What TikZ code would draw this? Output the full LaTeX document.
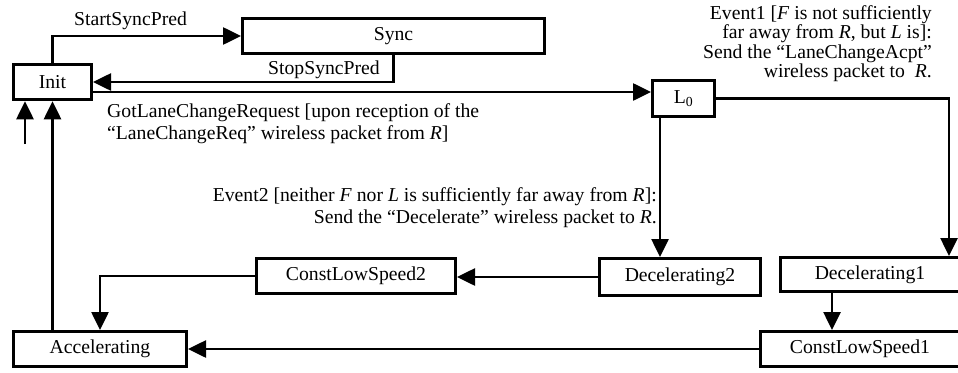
\documentclass[tikz,border=0pt]{standalone}
\usepackage{fontspec}
\setmainfont{Liberation Serif}
\usetikzlibrary{arrows.meta}
\begin{document}
\begin{tikzpicture}[x=1pt,y=-1pt,
  state/.style={draw, line width=3pt, inner sep=0pt,
    font=\fontsize{19.7}{20}\selectfont},
  arr/.style={line width=2.6pt, -{Triangle[length=18pt,width=17pt]}},
  lbl/.style={inner sep=0pt, font=\fontsize{19.7}{20}\selectfont}]
\useasboundingbox (0,0) rectangle (958,372);

% states
\node[state, minimum width=78pt,  minimum height=35.5pt] (init) at (52.5,82)   {Init};
\node[state, minimum width=302pt, minimum height=35pt]   (sync) at (393.5,36)  {Sync};
\node[state, minimum width=62pt,  minimum height=36pt]   (l0)   at (683.5,98.5){L\textsubscript{0}};
\node[state, minimum width=161pt, minimum height=37pt]   (dec2) at (680,277)   {Decelerating2};
\node[state, minimum width=180pt, minimum height=34pt]   (dec1) at (870,274.5) {Decelerating1};
\node[state, minimum width=199pt, minimum height=35pt]   (cls2) at (356,276)   {ConstLowSpeed2};
\node[state, minimum width=200pt, minimum height=35pt]   (cls1) at (860,349)   {ConstLowSpeed1};
\node[state, minimum width=173pt, minimum height=35pt]   (acc)  at (100,349)   {Accelerating};
\coordinate (entry) at (25,144);

% transitions
\draw[arr] (init.north) |- (sync.west);
\draw[arr] (sync.south) |- (init.east);
\draw[arr] ([yshift=-10pt]init.east) -- ([yshift=-10pt]init.east -| l0.west);
\draw[arr] (l0.east) -| ([xshift=79pt]dec1.north);
\draw[arr] ([xshift=-23.5pt]l0.south) -- ([xshift=-23.5pt]l0.south |- dec2.north);
\draw[arr] (dec2.west) -- (dec2.west -| cls2.east);
\draw[arr] (cls2.west) -| (acc.north);
\draw[arr] ([xshift=-38pt]dec1.south) -- ([xshift=-38pt]dec1.south |- cls1.north);
\draw[arr] (cls1.west) -- (acc.east);
\draw[arr] (acc.north -| init.south) -- (init.south);
\draw[arr] (entry) -- (entry |- init.south);

% transition labels
\node[lbl, anchor=base west] (lstart) at (74,25) {StartSyncPred};
\node[lbl, anchor=base west] (lstop) at (268,74) {StopSyncPred};
\node[lbl, anchor=north west, align=left, font=\fontsize{19.7}{22}\selectfont] (lgot) at (107,103)
  {GotLaneChangeRequest [upon reception of the\\“LaneChangeReq” wireless packet from \textit{R}]};
\node[lbl, anchor=north east, align=right, font=\fontsize{19.7}{19.5}\selectfont] (lev1) at (932,5)
  {Event1 [\textit{F} is not sufficiently\\far away from \textit{R}, but \textit{L} is]:\\Send the “LaneChangeAcpt”\\wireless packet to~~\textit{R}.};
\node[lbl, anchor=north east, align=right, font=\fontsize{19.7}{22}\selectfont] (lev2) at (657,187)
  {Event2 [neither \textit{F} nor \textit{L} is sufficiently far away from \textit{R}]:\\Send the “Decelerate” wireless packet to \textit{R}.};
\end{tikzpicture}
\end{document}
